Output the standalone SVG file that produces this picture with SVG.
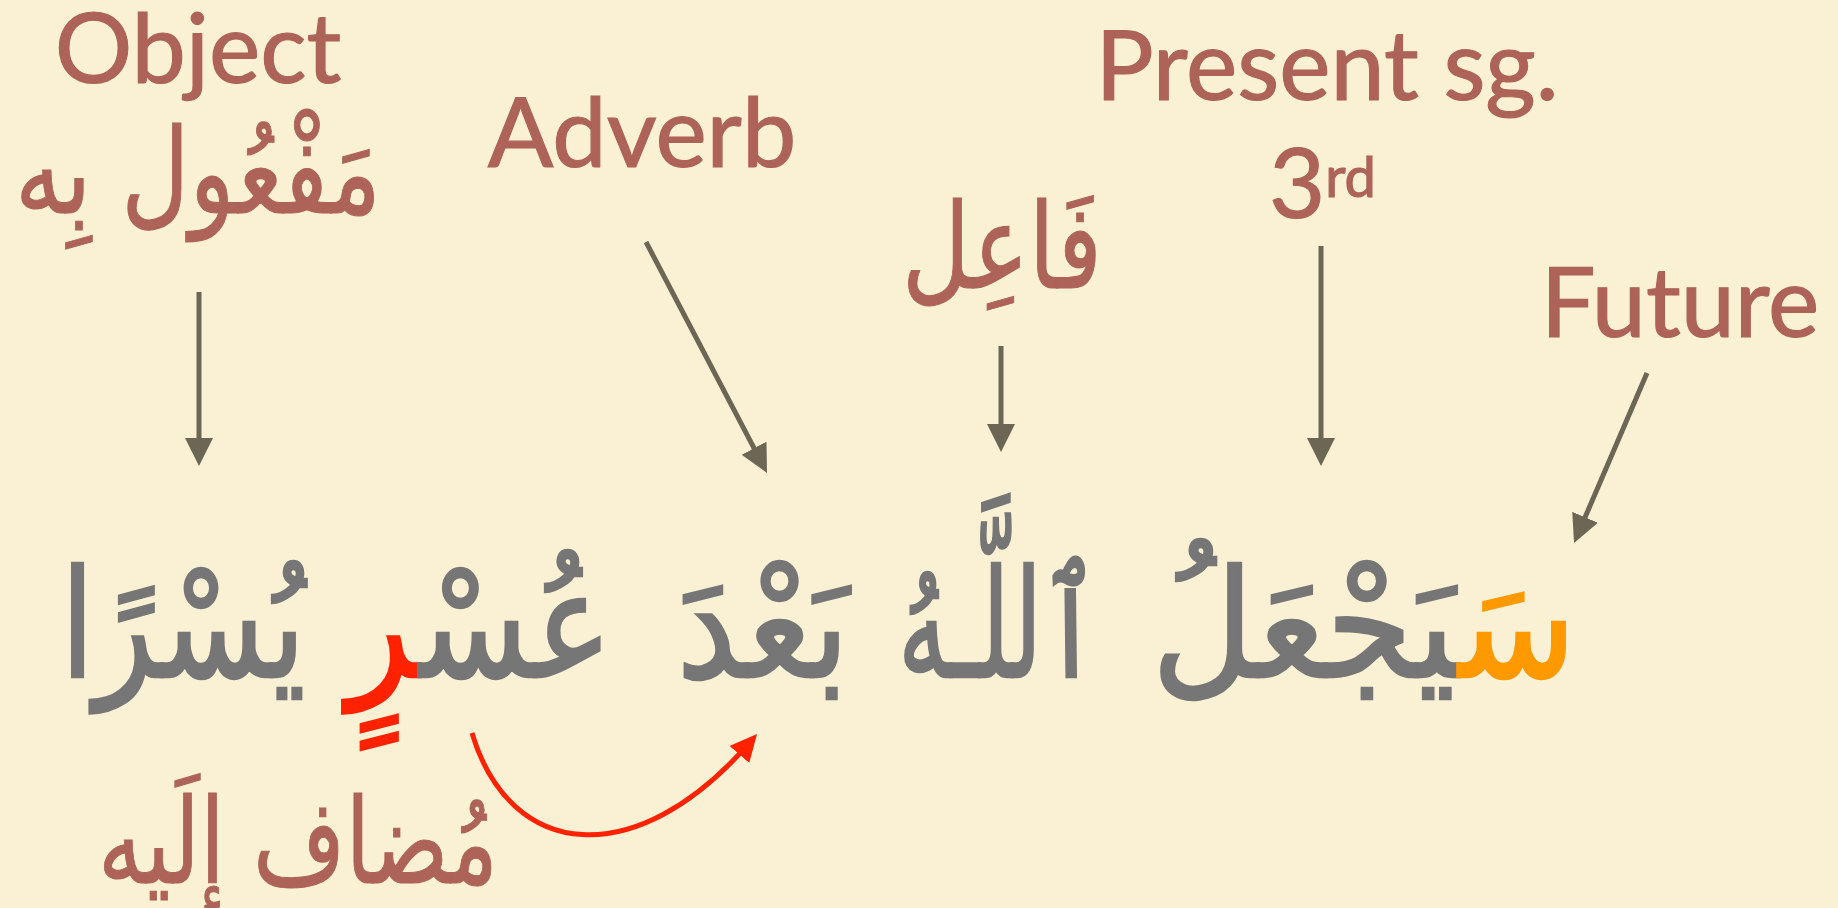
<svg xmlns="http://www.w3.org/2000/svg" width="1838" height="908" viewBox="0 0 1838 908">
  <style>
    .lat { font-family: Lato, "Open Sans", "DejaVu Sans", sans-serif; fill: #AD6357; stroke: #AD6357; stroke-width: 1.2px; font-size: 97px; text-anchor: middle; }
    .arl { font-family: "DejaVu Sans", sans-serif; fill: #AD6357; stroke: #AD6357; stroke-width: 1px; font-size: 118px; text-anchor: middle; }
    .main { font-family: "DejaVu Sans", sans-serif; fill: #767676; stroke: #767676; stroke-width: 2.5px; font-size: 150px; text-anchor: middle; }
    .org { fill: #FF9900; stroke: #FF9900; }
    .rd { fill: #FF2200; stroke: #FF2200; }
    .conn { stroke: #6C6654; stroke-width: 5; fill: none; }
    .red { stroke: #FF2200; stroke-width: 5; fill: none; }
  </style>
  <defs>
    <marker id="ah" markerUnits="userSpaceOnUse" markerWidth="30" markerHeight="30" refX="18" refY="14" orient="auto">
      <path d="M0,0 L28,14 L0,28 Z" fill="#6C6654"/>
    </marker>
    <marker id="ahr" markerUnits="userSpaceOnUse" markerWidth="30" markerHeight="30" refX="17" refY="13" orient="auto">
      <path d="M0,0 L27,13 L0,26 Z" fill="#FF2200"/>
    </marker>
  </defs>
  <rect x="0" y="0" width="1838" height="908" fill="#FAF1D4"/>

  <g id="label-object">
    <text class="lat" x="198" y="83">Object</text>
    <text class="arl" x="198" y="213" textLength="366" lengthAdjust="spacingAndGlyphs">مَفْعُول بِه</text>
  </g>
  <g id="label-adverb">
    <text class="lat" x="642" y="167">Adverb</text>
  </g>
  <g id="label-fail">
    <text class="arl" x="1002" y="288" textLength="200" lengthAdjust="spacingAndGlyphs">فَاعِل</text>
  </g>
  <g id="label-present">
    <text class="lat" x="1327" y="100">Present sg.</text>
    <text class="lat" x="1269" y="218" style="text-anchor:start">3<tspan font-size="56" dy="-21">rd</tspan></text>
  </g>
  <g id="label-future">
    <text class="lat" x="1680" y="337">Future</text>
  </g>
  <g id="label-mudaf">
    <text class="arl" x="298" y="883" textLength="400" lengthAdjust="spacingAndGlyphs">مُضاف إلَيه</text>
  </g>

  <g id="sentence">
    <text class="main" x="1364" y="677" textLength="425" lengthAdjust="spacingAndGlyphs"><tspan class="org">سَ</tspan>يَجْعَلُ</text>
    <text class="main" x="999" y="677" textLength="202" lengthAdjust="spacingAndGlyphs">ٱللَّـهُ</text>
    <text class="main" x="763" y="677" textLength="173" lengthAdjust="spacingAndGlyphs">بَعْدَ</text>
    <text class="main" x="480" y="677" textLength="265" lengthAdjust="spacingAndGlyphs">عُسْ<tspan class="rd">رٍ</tspan></text>
    <text class="main" x="183" y="677" textLength="245" lengthAdjust="spacingAndGlyphs">يُسْرًا</text>
  </g>

  <g id="connectors">
    <line class="conn" x1="199" y1="292" x2="199" y2="456" marker-end="url(#ah)"/>
    <line class="conn" x1="646" y1="242" x2="762.4" y2="464.1" marker-end="url(#ah)"/>
    <line class="conn" x1="1001" y1="346" x2="1001" y2="442" marker-end="url(#ah)"/>
    <line class="conn" x1="1321" y1="246" x2="1321" y2="456" marker-end="url(#ah)"/>
    <line class="conn" x1="1647" y1="373" x2="1578" y2="533.8" marker-end="url(#ah)"/>
    <path class="red" d="M472,733 C510,860 636,874 750.5,741.6" marker-end="url(#ahr)"/>
  </g>
</svg>
